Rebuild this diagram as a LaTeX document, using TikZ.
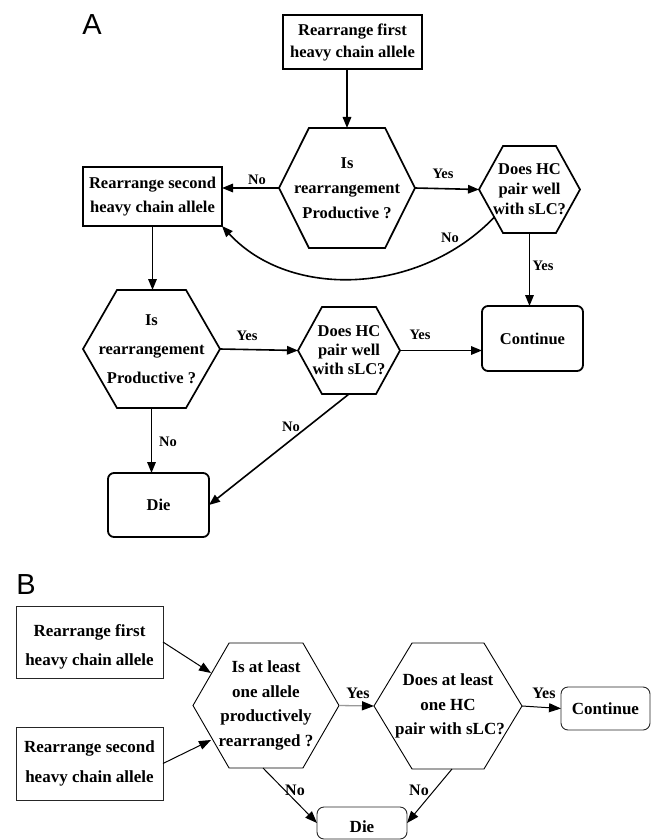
\documentclass[tikz,border=0pt]{standalone}
\usepackage{fontspec}
\setmainfont{Liberation Serif}
\newfontfamily\panelfont{Liberation Sans}
\usetikzlibrary{arrows.meta,calc}

% Hexagon outline drawn on the bounding rectangle of a node;
% #3 is the horizontal inset of the top/bottom edges as a fraction of the width.
\newcommand\hexframe[3][]{%
  \draw[#1] (#2.west)
    -- ($(#2.north west)!#3!(#2.north east)$)
    -- ($(#2.north east)!#3!(#2.north west)$)
    -- (#2.east)
    -- ($(#2.south east)!#3!(#2.south west)$)
    -- ($(#2.south west)!#3!(#2.south east)$)
    -- cycle;}

\tikzset{
  panel/.style={font=\panelfont\fontsize{29}{29}\selectfont, inner sep=0pt},
  boxA/.style={draw, line width=1.8pt, inner sep=0pt, outer sep=0pt, align=center,
    font=\fontsize{16.5}{24}\selectfont\bfseries},
  endA/.style={boxA, rounded corners=6pt},
  hexA/.style={inner sep=0pt, outer sep=0pt, align=center},
  hexlineA/.style={line width=1.7pt, line join=miter},
  labA/.style={inner sep=0pt, font=\fontsize{14.5}{14.5}\selectfont\bfseries},
  arrA/.style={line width=1.6pt, -{Triangle[length=11pt,width=8.5pt]}},
  boxB/.style={draw=black!85, line width=0.9pt, inner sep=0pt, outer sep=0pt, align=center,
    font=\fontsize{17}{30}\selectfont\bfseries},
  endB/.style={boxB, rounded corners=7pt},
  txtB/.style={inner sep=0pt, align=center, font=\fontsize{17}{29}\selectfont\bfseries},
  hexB/.style={inner sep=0pt, outer sep=0pt, align=center},
  hexlineB/.style={line width=0.9pt},
  labB/.style={inner sep=0pt, font=\fontsize{16}{16}\selectfont\bfseries},
  arrB/.style={line width=1pt, -{Triangle[length=12pt,width=9pt]}},
  arrBgray/.style={line width=1.3pt, draw=black!40, -{Triangle[length=12pt,width=9pt,color=black]}},
}

\begin{document}
\begin{tikzpicture}[x=1pt,y=-1pt]
\useasboundingbox (0,0) rectangle (656,840);

% panel letters
\node[panel] (pa) at (92,25) {A};
\node[panel] (pb) at (26,585) {B};

% ---------- Panel A ----------
\node[boxA, minimum width=139pt, minimum height=54pt, font=\fontsize{16.5}{22}\selectfont\bfseries]
  (b1) at (352.5,42) {Rearrange first\\heavy chain allele};

\node[hexA, minimum width=136pt, minimum height=120pt, font=\fontsize{16.5}{25}\selectfont\bfseries]
  (h1) at (347,188) {Is\\rearrangement\\Productive ?};
\hexframe[hexlineA]{h1}{0.22}

\node[boxA, minimum width=139pt, minimum height=59pt]
  (b2) at (152.5,196.5) {Rearrange second\\heavy chain allele};

\node[hexA, minimum width=101pt, minimum height=87pt, font=\fontsize{16.5}{20}\selectfont\bfseries]
  (h2) at (529.5,189.5) {Does HC\\pair well\\with sLC?};
\hexframe[hexlineA]{h2}{0.238}

\node[endA, minimum width=101pt, minimum height=65pt] (c1) at (532.5,338.5) {Continue};

\node[hexA, minimum width=137pt, minimum height=118pt, font=\fontsize{16.5}{29}\selectfont\bfseries]
  (h3) at (151.5,349) {Is\\rearrangement\\Productive ?};
\hexframe[hexlineA]{h3}{0.248}

\node[hexA, minimum width=102pt, minimum height=87pt, font=\fontsize{16.5}{19}\selectfont\bfseries]
  (h4) at (349,350.5) {Does HC\\pair well\\with sLC?};
\hexframe[hexlineA]{h4}{0.235}

\node[endA, minimum width=101pt, minimum height=64pt] (d1) at (158.5,505) {Die};

% connectors of panel A
\draw[arrA] (h1.north |- b1.south) -- (h1.north);
\draw[arrA] (h1.west) -- (h1.west -| b2.east);
\draw[arrA] (h1.east) -- (h2.west);
\draw[arrA] (h2.south) -- (h2.south |- c1.north);
\coordinate (h2out) at (494.5,217);
\draw[arrA] (h2out) .. controls (420,295) and (290,300) .. (b2.south east);
\draw[arrA] (b2.south) -- (b2.south |- h3.north);
\draw[arrA] (h3.east) -- (h4.west);
\draw[arrA] (h4.east) -- (h4.east -| c1.west);
\draw[arrA] (h3.south) -- (h3.south |- d1.north);
\draw[arrA] (h4.south) -- (d1.east);

% branch labels of panel A
\node[labA] (la1) at (257,180) {No};
\node[labA] (la2) at (443,174) {Yes};
\node[labA] (la3) at (450,238) {No};
\node[labA] (la4) at (543,266) {Yes};
\node[labA] (la5) at (247,336) {Yes};
\node[labA] (la6) at (420,335) {Yes};
\node[labA] (la7) at (168,442) {No};
\node[labA] (la8) at (291,427) {No};

% ---------- Panel B ----------
\node[boxB, minimum width=147pt, minimum height=72pt] (e1) at (89.5,642) {};
\node[txtB] (e1t) at (89.5,646.5) {Rearrange first\\heavy chain allele};

\node[boxB, minimum width=147pt, minimum height=73pt] (e2) at (89.5,763.5)
  {Rearrange second\\heavy chain allele};

\node[hexB, minimum width=146pt, minimum height=125pt, font=\fontsize{17}{24.7}\selectfont\bfseries]
  (g1) at (266,705.5) {Is at least\\one allele\\productively\\rearranged ?};
\hexframe[hexlineB]{g1}{0.247}

\node[hexB, minimum width=148pt, minimum height=126pt, font=\fontsize{17}{24.5}\selectfont\bfseries]
  (g2) at (448,706) {Does at least\\one HC\hspace*{10pt}\\\hspace*{4pt}pair with sLC?};
\hexframe[hexlineB]{g2}{0.257}

\node[endB, minimum width=89pt, minimum height=43pt] (k1) at (605.5,708.5) {Continue};

\node[endB, minimum width=90pt, minimum height=32pt] (m1) at (362,823) {};
\node[txtB] (m1t) at (362,827) {Die};

% connectors of panel B
\coordinate (g1in1) at (211,673);
\coordinate (g1in2) at (211,740);
\coordinate (g1out) at (263,768);
\coordinate (g2out) at (452,769);
\draw[arrB] (e1.east) -- (g1in1);
\draw[arrB] (e2.east) -- (g1in2);
\draw[arrBgray] (g1.east) -- (g2.west);
\draw[arrB] (g2.east) -- (k1.west);
\draw[arrB] (g1out) -- (m1.west);
\draw[arrB] (g2out) -- (m1.east);

% branch labels of panel B
\node[labB] (lb1) at (358,693) {Yes};
\node[labB] (lb2) at (544,693) {Yes};
\node[labB] (lb3) at (295,790) {No};
\node[labB] (lb4) at (419,790) {No};
\end{tikzpicture}
\end{document}
